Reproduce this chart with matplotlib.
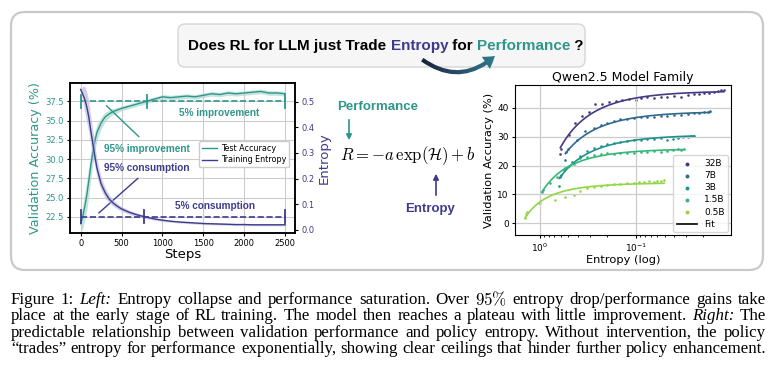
import matplotlib.pyplot as plt
import numpy as np
from matplotlib.patches import FancyBboxPatch, FancyArrowPatch
from matplotlib.lines import Line2D
from matplotlib.colors import LinearSegmentedColormap

plt.rcParams['mathtext.fontset'] = 'cm'

# ---------------- left panel: training curves ----------------
steps = [0, 25, 50, 75, 100, 125, 150, 175, 200, 250, 300, 350, 400, 450, 500,
         600, 700, 800, 900, 1000, 1100, 1200, 1300, 1400, 1500, 1600, 1700,
         1800, 1900, 2000, 2100, 2200, 2300, 2400, 2500]
test_acc = [21.6, 22.5, 23.8, 25.3, 27.2, 29.2, 31.0, 32.4, 33.5, 34.7, 35.5, 35.9,
            36.2, 36.4, 36.6, 36.9, 37.2, 37.5, 37.8, 38.1, 38.0, 38.1, 38.2, 38.1,
            38.3, 38.5, 38.4, 38.6, 38.5, 38.6, 38.7, 38.8, 38.6, 38.6, 38.5]
acc_spread = [1.0, 1.5, 1.8, 2.0, 2.0, 1.8, 1.6, 1.3, 1.0, 0.8, 0.6, 0.5, 0.4, 0.35,
              0.3, 0.3, 0.3, 0.3, 0.3, 0.3, 0.3, 0.3, 0.3, 0.3, 0.3, 0.3, 0.3, 0.3,
              0.3, 0.3, 0.3, 0.3, 0.3, 0.3, 0.3]
train_entropy = [0.548, 0.530, 0.510, 0.480, 0.440, 0.385, 0.335, 0.285, 0.240, 0.180,
                 0.145, 0.120, 0.104, 0.092, 0.082, 0.068, 0.058, 0.050, 0.043, 0.038,
                 0.034, 0.031, 0.029, 0.027, 0.025, 0.024, 0.023, 0.022, 0.021, 0.021,
                 0.020, 0.020, 0.020, 0.020, 0.020]
ent_spread = [0.0, 0.03, 0.05, 0.06, 0.06, 0.055, 0.05, 0.04, 0.035, 0.025, 0.02,
              0.015, 0.012, 0.01, 0.009, 0.008, 0.007, 0.006, 0.005, 0.005, 0.004,
              0.004, 0.004, 0.004, 0.004, 0.004, 0.004, 0.004, 0.004, 0.004, 0.004,
              0.004, 0.004, 0.004, 0.004]
acc_level = 37.5
acc_marks = [0, 805, 2500]
ent_level = 0.052
ent_marks = [0, 780, 2500]

# ---------------- right panel: Qwen2.5 family ----------------
model_names = ['32B', '7B', '3B', '1.5B', '0.5B']
ent_32b = [0.608, 0.594, 0.498, 0.424, 0.361, 0.308, 0.262, 0.223, 0.190, 0.162, 0.138,
           0.117, 0.100, 0.0887, 0.0755, 0.0645, 0.0548, 0.0467, 0.0397, 0.0339, 0.0288,
           0.0245, 0.0218, 0.0193, 0.0171, 0.0152, 0.0140, 0.0129, 0.0121]
acc_32b = [23.9, 25.6, 30.5, 34.6, 37.1, 38.4, 41.2, 41.2, 42.1, 42.4, 42.7, 43.0, 42.7,
           43.2, 43.5, 43.2, 43.6, 43.8, 44.0, 43.8, 44.4, 44.6, 44.7, 45.0, 45.2, 45.4,
           45.8, 46.0, 46.2]
ent_7b = [0.539, 0.526, 0.509, 0.407, 0.333, 0.273, 0.232, 0.198, 0.168, 0.144, 0.122,
          0.104, 0.0887, 0.0755, 0.0645, 0.0548, 0.0467, 0.0397, 0.0339, 0.0288, 0.0245,
          0.0218, 0.0193, 0.0178, 0.0167]
acc_7b = [21.9, 24.8, 25.6, 28.8, 31.9, 32.9, 34.0, 34.6, 35.4, 36.0, 36.1, 36.3, 36.7,
          36.7, 36.9, 37.1, 37.1, 37.3, 37.5, 37.7, 38.0, 38.3, 38.4, 38.6, 38.8]
ent_3b = [0.623, 0.608, 0.594, 0.539, 0.459, 0.376, 0.320, 0.273, 0.232, 0.198, 0.168,
          0.144, 0.122, 0.104, 0.0887, 0.0755, 0.0645, 0.0548, 0.0467, 0.0414, 0.0367,
          0.0325, 0.0288, 0.0266, 0.0245]
acc_3b = [12.9, 15.9, 16.7, 19.0, 21.3, 23.3, 25.1, 25.9, 26.7, 27.4, 27.7, 28.2, 28.6,
          28.8, 28.8, 29.0, 29.2, 29.4, 28.8, 29.3, 29.5, 29.7, 30.0, 30.2, 30.3]
ent_1_5b = [0.946, 0.923, 0.774, 0.659, 0.561, 0.498, 0.441, 0.376, 0.320, 0.273, 0.232,
            0.198, 0.168, 0.144, 0.122, 0.104, 0.0887, 0.0755, 0.0645, 0.0548, 0.0467,
            0.0414, 0.0367, 0.0339, 0.0313]
acc_1_5b = [11.0, 11.5, 14.1, 16.1, 18.4, 19.8, 20.5, 22.5, 23.1, 23.6, 24.0, 24.2, 24.0,
            24.2, 24.4, 24.2, 24.6, 24.7, 24.9, 24.8, 25.1, 25.4, 25.6, 25.4, 25.7]
ent_0_5b = [1.41, 1.39, 1.36, 1.02, 1.0, 0.686, 0.539, 0.441, 0.376, 0.320, 0.273, 0.232,
            0.198, 0.168, 0.144, 0.122, 0.104, 0.0923, 0.0818, 0.0726, 0.0645, 0.0594,
            0.0548, 0.0506]
acc_0_5b = [1.7, 3.2, 4.0, 6.9, 7.1, 8.1, 9.0, 9.8, 11.2, 12.1, 12.7, 12.9, 13.3, 13.5,
            13.6, 13.8, 14.1, 14.3, 14.4, 14.6, 14.4, 14.8, 14.6, 15.0]
family_ent = [ent_32b, ent_7b, ent_3b, ent_1_5b, ent_0_5b]
family_acc = [acc_32b, acc_7b, acc_3b, acc_1_5b, acc_0_5b]
family_colors = ['#443983', '#31688e', '#21918c', '#35b779', '#90d743']

teal = '#2f968a'
purple = '#3d3b8e'

W, H = 776, 389
fig = plt.figure(figsize=(W / 100, H / 100), dpi=100)


def px_axes(l, t, r, b):
    return fig.add_axes([l / W, 1 - b / H, (r - l) / W, (b - t) / H])


# background axes in pixel units
bg = fig.add_axes([0, 0, 1, 1])
bg.axis('off')

bg.add_patch(FancyBboxPatch((11, 12), 752, 258, boxstyle='round,pad=0,rounding_size=14',
                            fc='white', ec='#c9c9c9', lw=1.6))
bg.add_patch(FancyBboxPatch((178, 24), 407, 43, boxstyle='round,pad=0,rounding_size=7',
                            fc='#f6f6f6', ec='#d6d6d6', lw=1.0))

# ---------------- left chart ----------------
ax = px_axes(70, 83, 295, 233)
acc = np.array(test_acc)
accs = np.array(acc_spread)
ax.fill_between(steps, acc - accs, acc + accs, color='#9fd3c9', alpha=0.6, lw=0)
ax.plot(steps, acc, color=teal, lw=1.0)
ax.plot([0, 2500], [acc_level, acc_level], ls='--', color=teal, lw=1.2)
for m in acc_marks:
    ax.plot([m, m], [acc_level - 0.87, acc_level + 0.87], color=teal, lw=1.3)
ax.plot([317, 711], [36.93, 32.93], color=teal, lw=1.0)
ax.plot([224, 699], [23.02, 27.5], color=purple, lw=1.0)
ann = dict(fontsize=7.2, fontweight='bold', family='Liberation Sans', ha='center', va='center')
ax.text(1687, 35.98, '5% improvement', color=teal, **ann)
ax.text(813, 31.33, '95% improvement', color=teal, **ann)
ax.text(813, 28.8, '95% consumption', color=purple, **ann)
ax.text(1646, 23.9, '5% consumption', color=purple, **ann)
ax.set_xlim(-130, 2620)
ax.set_ylim(20.4, 39.9)
ax.set_xticks([0, 500, 1000, 1500, 2000, 2500])
ax.set_yticks([22.5, 25.0, 27.5, 30.0, 32.5, 35.0, 37.5])
ax.tick_params(labelsize=6, length=2.5, pad=2)
ax.tick_params(axis='y', labelcolor=teal)
ax.grid(True, color='#cccccc', lw=0.8)
ax.set_xlabel('Steps', fontsize=9.5, labelpad=0)
ax.set_ylabel('Validation Accuracy (%)', fontsize=9.2, color=teal, labelpad=2)

ax2 = ax.twinx()
ent = np.array(train_entropy)
ents = np.array(ent_spread)
ax2.fill_between(steps, ent - ents, ent + ents, color='#b9b5da', alpha=0.65, lw=0)
ax2.plot(steps, ent, color=purple, lw=1.0)
ax2.plot([0, 2500], [ent_level, ent_level], ls='--', color=purple, lw=1.2)
for m in ent_marks:
    ax2.plot([m, m], [ent_level - 0.026, ent_level + 0.026], color=purple, lw=1.3)
ax2.set_ylim(-0.012, 0.573)
ax2.set_yticks([0.0, 0.1, 0.2, 0.3, 0.4, 0.5])
ax2.tick_params(labelsize=6, length=2.5, pad=2, labelcolor=purple)
ax2.set_ylabel('Entropy', fontsize=9.5, color=purple, labelpad=2)
for a in (ax, ax2):
    for s in a.spines.values():
        s.set_linewidth(1.1)
handles = [Line2D([], [], color=teal, lw=1.0), Line2D([], [], color=purple, lw=1.0)]
ax2.legend(handles, ['Test Accuracy', 'Training Entropy'], loc='center right',
           bbox_to_anchor=(0.975, 0.525), fontsize=5.8, handlelength=1.9, handletextpad=0.5,
           borderpad=0.35, labelspacing=0.3, framealpha=1.0, borderaxespad=0)

# ---------------- right chart ----------------
axr = px_axes(515, 85, 731, 235)
axr.set_xscale('log')
for name, e, a, c in zip(model_names, family_ent, family_acc, family_colors):
    e = np.array(e)
    a = np.array(a)
    axr.scatter(e, a, s=3.5, color=c, label=name, lw=0)
    k, b0 = np.polyfit(np.exp(e), a, 1)
    hh = np.geomspace(e.min(), e.max(), 200)
    axr.plot(hh, k * np.exp(hh) + b0, color=c, lw=1.2)
axr.set_xlim(1.8, 0.0102)
axr.set_ylim(-4, 47.8)
axr.set_yticks([0, 10, 20, 30, 40])
axr.grid(True, which='major', color='#cccccc', lw=0.9)
axr.tick_params(labelsize=6.5, length=2.5, pad=2)
axr.tick_params(which='minor', length=1.5)
axr.set_title('Qwen2.5 Model Family', fontsize=9, pad=3)
axr.set_xlabel('Entropy (log)', fontsize=8.2, labelpad=1)
axr.set_ylabel('Validation Accuracy (%)', fontsize=8.2, labelpad=2)
h, l = axr.get_legend_handles_labels()
h.append(Line2D([], [], color='black', lw=1.2))
l.append('Fit')
axr.legend(h, l, loc='lower right', fontsize=6.5, markerscale=1.5, handlelength=2.2,
           labelspacing=0.35, borderpad=0.4, borderaxespad=0.3)

# ---------------- middle formula ----------------
bg.text(378, 107, 'Performance', color=teal, fontsize=9.5, fontweight='bold',
        family='Liberation Sans', ha='center', va='center')
bg.annotate('', xy=(349, 143), xytext=(349, 117),
            arrowprops=dict(arrowstyle='-|>', color=teal, lw=1.2, mutation_scale=8))
bg.text(408, 156, r'$R = -a\,\exp(\mathcal{H}) + b$', fontsize=12, ha='center', va='center')
bg.annotate('', xy=(436, 171), xytext=(436, 198),
            arrowprops=dict(arrowstyle='-|>', color=purple, lw=1.2, mutation_scale=8))
bg.text(430, 209, 'Entropy', color=purple, fontsize=9.5, fontweight='bold',
        family='Liberation Sans', ha='center', va='center')

# curved gradient arrow under the question
arrow = FancyArrowPatch(posA=(420, 58), posB=(497, 54), connectionstyle='arc3,rad=0.42',
                        arrowstyle='simple,head_length=0.55,head_width=0.7,tail_width=0.2',
                        mutation_scale=15, fc='none', ec='none', lw=0)
bg.add_patch(arrow)
grad = np.linspace(0, 1, 100).reshape(1, -1)
cmap = LinearSegmentedColormap.from_list('arr', ['#141a33', '#2b4f6e', '#2f8590'])
im = bg.imshow(grad, extent=(415, 505, 80, 40), cmap=cmap, aspect='auto', zorder=3)
im.set_clip_path(arrow)

bg.set_xlim(0, W)
bg.set_ylim(H, 0)

# ---------------- title box text ----------------
fig.canvas.draw()
rend = fig.canvas.get_renderer()
pieces = [('Does RL for LLM just Trade ', 'black'), ('Entropy', purple), (' for ', 'black'),
          ('Performance', teal), (' ?', 'black')]
objs = []
for txt, col in pieces:
    objs.append(bg.text(0, 46, txt, color=col, fontsize=11, fontweight='bold',
                        family='Liberation Sans', ha='left', va='center'))
widths = [o.get_window_extent(rend).width for o in objs]
x = 386 - sum(widths) / 2
for o, wd in zip(objs, widths):
    o.set_x(x)
    x += wd

# ---------------- caption (justified) ----------------
caption = [
    r'Figure 1: *Left:* Entropy collapse and performance saturation. Over $95\%$ entropy drop/performance gains take',
    'place at the early stage of RL training. The model then reaches a plateau with little improvement. *Right:* The',
    'predictable relationship between validation performance and policy entropy. Without intervention, the policy',
    '\u201ctrades\u201d entropy for performance exponentially, showing clear ceilings that hinder further policy enhancement.',
]
cap_y = [300, 316, 333, 349]
cap_x0, cap_x1 = 11, 766
base = 10.0
rows = []
for line, y in zip(caption, cap_y):
    words = []
    for w in line.split(' '):
        style = 'normal'
        if w.startswith('*'):
            w = w.strip('*')
            style = 'italic'
        words.append(bg.text(0, y, w, fontsize=base, family='Liberation Serif', style=style,
                             ha='left', va='center'))
    rows.append(words)
# pick font size so the widest line nearly fills the width with normal spaces
space = 0.25 * base * 100 / 72
natural = []
for words in rows:
    natural.append(sum(t.get_window_extent(rend).width for t in words) + space * (len(words) - 1))
size = base * (cap_x1 - cap_x0) / max(natural) * 0.995
for words in rows:
    for t in words:
        t.set_fontsize(size)
    wds = [t.get_window_extent(rend).width for t in words]
    gap = (cap_x1 - cap_x0 - sum(wds)) / (len(words) - 1)
    x = cap_x0
    for t, wd in zip(words, wds):
        t.set_x(x)
        x += wd + gap

fig.savefig('out.png', dpi=100)
